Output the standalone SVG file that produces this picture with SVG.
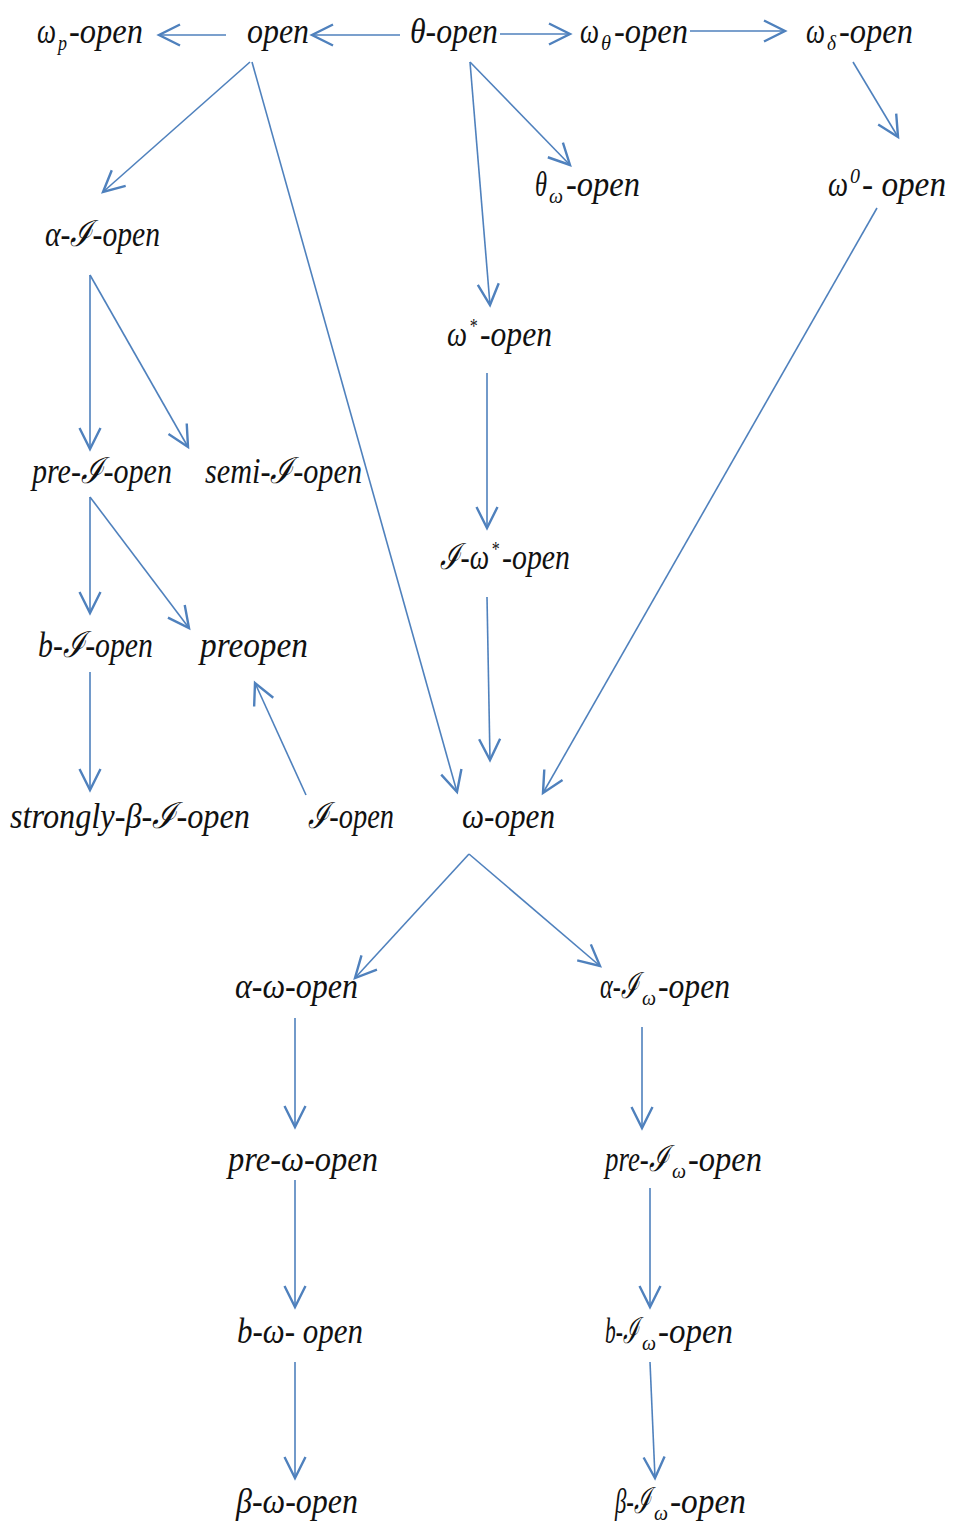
<svg xmlns="http://www.w3.org/2000/svg" width="955" height="1525" viewBox="0 0 955 1525">
<style>
text{font-family:"Liberation Serif","DejaVu Serif",serif;font-style:italic;font-size:36px;fill:#111}
.s{font-size:22px}
.c line{stroke:#4f81bd;stroke-width:1.6;fill:none;marker-end:url(#ah)}
</style>
<defs>
<marker id="ah" markerUnits="userSpaceOnUse" markerWidth="30" markerHeight="30" refX="0" refY="0" viewBox="-16 -10 20 20" orient="auto" overflow="visible">
<path d="M-14,-7 L0,0 L-14,7" fill="none" stroke="#4f81bd" stroke-width="1.6"/>
</marker>
</defs>
<rect width="955" height="1525" fill="#fff"/>
<g class="c" id="connectors">
<line x1="226" y1="35" x2="159" y2="35"/>
<line x1="400" y1="35" x2="312" y2="35"/>
<line x1="500" y1="34" x2="570" y2="34"/>
<line x1="690" y1="31" x2="785" y2="31"/>
<line x1="853" y1="62" x2="898" y2="137"/>
<line x1="250" y1="62" x2="103" y2="192"/>
<line x1="252" y1="62" x2="457" y2="792"/>
<line x1="470" y1="62" x2="570" y2="165"/>
<line x1="470" y1="62" x2="490" y2="305"/>
<line x1="90" y1="275" x2="90" y2="449"/>
<line x1="90" y1="275" x2="188" y2="447"/>
<line x1="487" y1="373" x2="487" y2="528"/>
<line x1="90" y1="497" x2="90" y2="613"/>
<line x1="90" y1="497" x2="189" y2="628"/>
<line x1="90" y1="672" x2="90" y2="790"/>
<line x1="306" y1="795" x2="255" y2="683"/>
<line x1="487" y1="597" x2="490" y2="760"/>
<line x1="877" y1="208" x2="543" y2="793"/>
<line x1="469" y1="854" x2="355" y2="978"/>
<line x1="469" y1="854" x2="600" y2="966"/>
<line x1="295" y1="1018" x2="295" y2="1127"/>
<line x1="642" y1="1027" x2="642" y2="1128"/>
<line x1="295" y1="1180" x2="295" y2="1307"/>
<line x1="650" y1="1188" x2="650" y2="1307"/>
<line x1="295" y1="1362" x2="295" y2="1478"/>
<line x1="650" y1="1362" x2="655" y2="1478"/>
</g>
<g id="n-wp-open">
<text x="37" y="43" textLength="19" lengthAdjust="spacingAndGlyphs">ω</text>
<text class="s" x="58" y="50" textLength="9" lengthAdjust="spacingAndGlyphs">p</text>
<text x="69" y="43" textLength="74" lengthAdjust="spacingAndGlyphs">-open</text>
</g>
<g id="n-open"><text x="247" y="43" textLength="62" lengthAdjust="spacingAndGlyphs">open</text></g>
<g id="n-theta-open"><text x="410" y="43" textLength="88" lengthAdjust="spacingAndGlyphs">θ-open</text></g>
<g id="n-wtheta-open">
<text x="580" y="43" textLength="19" lengthAdjust="spacingAndGlyphs">ω</text>
<text class="s" x="601" y="50" textLength="10" lengthAdjust="spacingAndGlyphs">θ</text>
<text x="614" y="43" textLength="74" lengthAdjust="spacingAndGlyphs">-open</text>
</g>
<g id="n-wdelta-open">
<text x="806" y="43" textLength="19" lengthAdjust="spacingAndGlyphs">ω</text>
<text class="s" x="827" y="50" textLength="9" lengthAdjust="spacingAndGlyphs">δ</text>
<text x="839" y="43" textLength="74" lengthAdjust="spacingAndGlyphs">-open</text>
</g>
<g id="n-thetaw-open">
<text x="535" y="196" textLength="12" lengthAdjust="spacingAndGlyphs">θ</text>
<text class="s" x="549" y="203" textLength="14" lengthAdjust="spacingAndGlyphs">ω</text>
<text x="566" y="196" textLength="74" lengthAdjust="spacingAndGlyphs">-open</text>
</g>
<g id="n-w0-open">
<text x="828" y="196" textLength="20" lengthAdjust="spacingAndGlyphs">ω</text>
<text class="s" x="850" y="183" textLength="10" lengthAdjust="spacingAndGlyphs">0</text>
<text x="862" y="196" textLength="84" lengthAdjust="spacingAndGlyphs">- open</text>
</g>
<g id="n-alpha-I-open"><text x="45" y="246" textLength="115" lengthAdjust="spacingAndGlyphs">α-ℐ-open</text></g>
<g id="n-wstar-open">
<text x="447" y="346" textLength="20" lengthAdjust="spacingAndGlyphs">ω</text>
<text class="s" x="469" y="333" textLength="8" lengthAdjust="spacingAndGlyphs">*</text>
<text x="480" y="346" textLength="72" lengthAdjust="spacingAndGlyphs">-open</text>
</g>
<g id="n-pre-I-open"><text x="32" y="483" textLength="140" lengthAdjust="spacingAndGlyphs">pre-ℐ-open</text></g>
<g id="n-semi-I-open"><text x="205" y="483" textLength="157" lengthAdjust="spacingAndGlyphs">semi-ℐ-open</text></g>
<g id="n-I-wstar-open">
<text x="440" y="569" textLength="49" lengthAdjust="spacingAndGlyphs">ℐ-ω</text>
<text class="s" x="491" y="556" textLength="8" lengthAdjust="spacingAndGlyphs">*</text>
<text x="502" y="569" textLength="68" lengthAdjust="spacingAndGlyphs">-open</text>
</g>
<g id="n-b-I-open"><text x="38" y="657" textLength="115" lengthAdjust="spacingAndGlyphs">b-ℐ-open</text></g>
<g id="n-preopen"><text x="200" y="657" textLength="108" lengthAdjust="spacingAndGlyphs">preopen</text></g>
<g id="n-strongly"><text x="10" y="828" textLength="240" lengthAdjust="spacingAndGlyphs">strongly-β-ℐ-open</text></g>
<g id="n-I-open"><text x="308" y="828" textLength="86" lengthAdjust="spacingAndGlyphs">ℐ-open</text></g>
<g id="n-w-open"><text x="462" y="828" textLength="93" lengthAdjust="spacingAndGlyphs">ω-open</text></g>
<g id="n-alpha-w-open"><text x="235" y="998" textLength="123" lengthAdjust="spacingAndGlyphs">α-ω-open</text></g>
<g id="n-alpha-Iw-open">
<text x="600" y="998" textLength="39" lengthAdjust="spacingAndGlyphs">α-ℐ</text>
<text class="s" x="642" y="1005" textLength="14" lengthAdjust="spacingAndGlyphs">ω</text>
<text x="658" y="998" textLength="72" lengthAdjust="spacingAndGlyphs">-open</text>
</g>
<g id="n-pre-w-open"><text x="228" y="1171" textLength="150" lengthAdjust="spacingAndGlyphs">pre-ω-open</text></g>
<g id="n-pre-Iw-open">
<text x="605" y="1171" textLength="64" lengthAdjust="spacingAndGlyphs">pre-ℐ</text>
<text class="s" x="672" y="1178" textLength="14" lengthAdjust="spacingAndGlyphs">ω</text>
<text x="688" y="1171" textLength="74" lengthAdjust="spacingAndGlyphs">-open</text>
</g>
<g id="n-b-w-open"><text x="237" y="1343" textLength="126" lengthAdjust="spacingAndGlyphs">b-ω- open</text></g>
<g id="n-b-Iw-open">
<text x="605" y="1343" textLength="34" lengthAdjust="spacingAndGlyphs">b-ℐ</text>
<text class="s" x="642" y="1350" textLength="14" lengthAdjust="spacingAndGlyphs">ω</text>
<text x="658" y="1343" textLength="75" lengthAdjust="spacingAndGlyphs">-open</text>
</g>
<g id="n-beta-w-open"><text x="236" y="1513" textLength="122" lengthAdjust="spacingAndGlyphs">β-ω-open</text></g>
<g id="n-beta-Iw-open">
<text x="615" y="1513" textLength="36" lengthAdjust="spacingAndGlyphs">β-ℐ</text>
<text class="s" x="654" y="1520" textLength="14" lengthAdjust="spacingAndGlyphs">ω</text>
<text x="670" y="1513" textLength="76" lengthAdjust="spacingAndGlyphs">-open</text>
</g>
</svg>
